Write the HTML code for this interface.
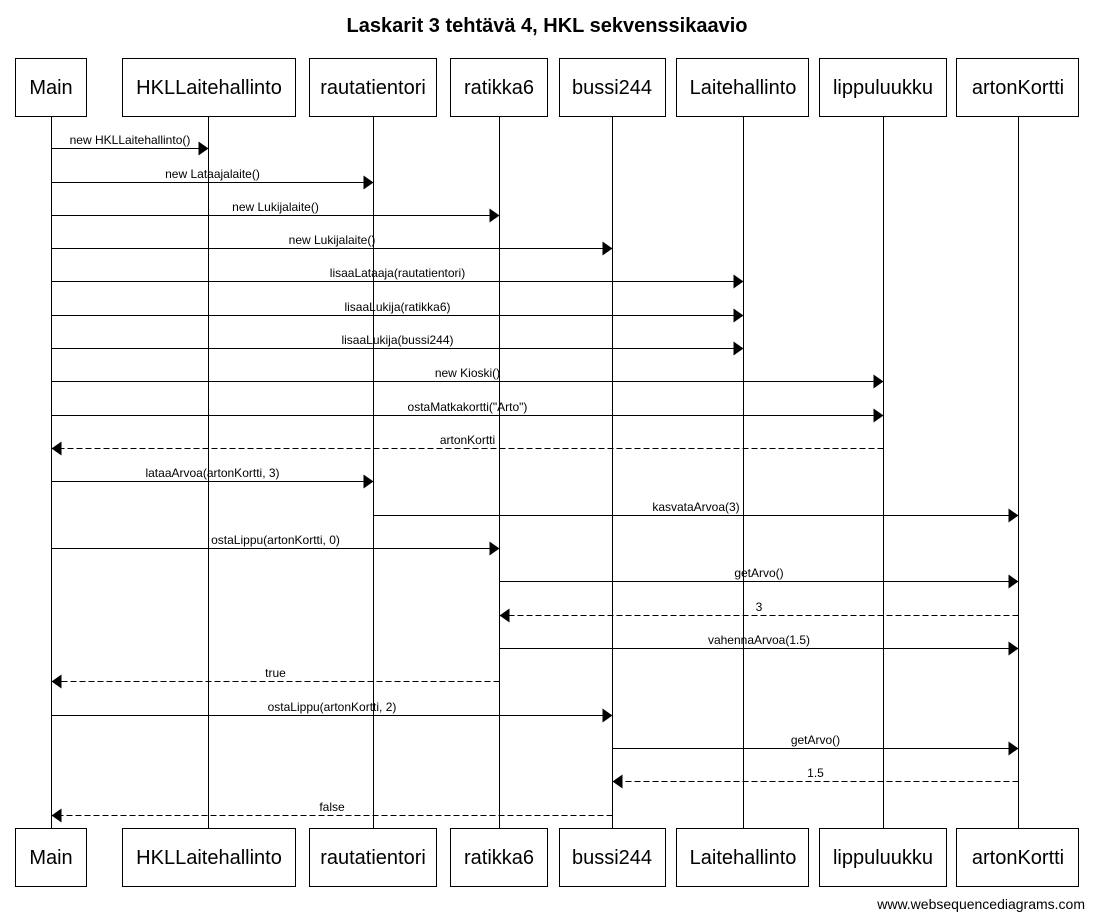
<!DOCTYPE html>
<html><head><meta charset="utf-8"><style>
html,body{margin:0;padding:0;background:#fff;}
svg{display:block;font-family:"Liberation Sans",Arial,sans-serif;}
</style></head><body>
<svg width="1095" height="919" viewBox="0 0 1095 919" xmlns="http://www.w3.org/2000/svg">
<text x="547" y="32" text-anchor="middle" font-size="20" font-weight="bold">Laskarit 3 tehtävä 4, HKL sekvenssikaavio</text>
<g stroke="#000" stroke-width="1" fill="none">
<line x1="51.5" y1="116" x2="51.5" y2="829"/>
<line x1="208.5" y1="116" x2="208.5" y2="829"/>
<line x1="373.5" y1="116" x2="373.5" y2="829"/>
<line x1="499.5" y1="116" x2="499.5" y2="829"/>
<line x1="612.5" y1="116" x2="612.5" y2="829"/>
<line x1="743.5" y1="116" x2="743.5" y2="829"/>
<line x1="883.5" y1="116" x2="883.5" y2="829"/>
<line x1="1018.5" y1="116" x2="1018.5" y2="829"/>
</g>
<g stroke="#000" stroke-width="1" fill="#fff">
<rect x="15.5" y="58.5" width="71" height="58"/>
<rect x="122.5" y="58.5" width="173" height="58"/>
<rect x="309.5" y="58.5" width="127" height="58"/>
<rect x="450.5" y="58.5" width="97" height="58"/>
<rect x="559.5" y="58.5" width="106" height="58"/>
<rect x="676.5" y="58.5" width="132" height="58"/>
<rect x="819.5" y="58.5" width="127" height="58"/>
<rect x="956.5" y="58.5" width="122" height="58"/>
<rect x="15.5" y="828.5" width="71" height="58"/>
<rect x="122.5" y="828.5" width="173" height="58"/>
<rect x="309.5" y="828.5" width="127" height="58"/>
<rect x="450.5" y="828.5" width="97" height="58"/>
<rect x="559.5" y="828.5" width="106" height="58"/>
<rect x="676.5" y="828.5" width="132" height="58"/>
<rect x="819.5" y="828.5" width="127" height="58"/>
<rect x="956.5" y="828.5" width="122" height="58"/>
</g>
<g font-size="20" text-anchor="middle">
<text x="51" y="94">Main</text><text x="209" y="94">HKLLaitehallinto</text><text x="373" y="94">rautatientori</text><text x="499" y="94">ratikka6</text><text x="612" y="94">bussi244</text><text x="743" y="94">Laitehallinto</text><text x="883" y="94">lippuluukku</text><text x="1018" y="94">artonKortti</text>
<text x="51" y="864">Main</text><text x="209" y="864">HKLLaitehallinto</text><text x="373" y="864">rautatientori</text><text x="499" y="864">ratikka6</text><text x="612" y="864">bussi244</text><text x="743" y="864">Laitehallinto</text><text x="883" y="864">lippuluukku</text><text x="1018" y="864">artonKortti</text>
</g>
<g stroke="#000" stroke-width="1">
<line x1="51.5" y1="148.5" x2="199.5" y2="148.5"/>
<line x1="51.5" y1="182.5" x2="364.5" y2="182.5"/>
<line x1="51.5" y1="215.5" x2="490.5" y2="215.5"/>
<line x1="51.5" y1="248.5" x2="603.5" y2="248.5"/>
<line x1="51.5" y1="281.5" x2="734.5" y2="281.5"/>
<line x1="51.5" y1="315.5" x2="734.5" y2="315.5"/>
<line x1="51.5" y1="348.5" x2="734.5" y2="348.5"/>
<line x1="51.5" y1="381.5" x2="874.5" y2="381.5"/>
<line x1="51.5" y1="415.5" x2="874.5" y2="415.5"/>
<line x1="883.5" y1="448.5" x2="60.5" y2="448.5" stroke-dasharray="6,3"/>
<line x1="51.5" y1="481.5" x2="364.5" y2="481.5"/>
<line x1="373.5" y1="515.5" x2="1009.5" y2="515.5"/>
<line x1="51.5" y1="548.5" x2="490.5" y2="548.5"/>
<line x1="499.5" y1="581.5" x2="1009.5" y2="581.5"/>
<line x1="1018.5" y1="615.5" x2="508.5" y2="615.5" stroke-dasharray="6,3"/>
<line x1="499.5" y1="648.5" x2="1009.5" y2="648.5"/>
<line x1="499.5" y1="681.5" x2="60.5" y2="681.5" stroke-dasharray="6,3"/>
<line x1="51.5" y1="715.5" x2="603.5" y2="715.5"/>
<line x1="612.5" y1="748.5" x2="1009.5" y2="748.5"/>
<line x1="1018.5" y1="781.5" x2="621.5" y2="781.5" stroke-dasharray="6,3"/>
<line x1="612.5" y1="815.5" x2="60.5" y2="815.5" stroke-dasharray="6,3"/>
</g>
<g fill="#000">
<polygon points="198.5,141.5 208.5,148.5 198.5,155.5"/>
<polygon points="363.5,175.5 373.5,182.5 363.5,189.5"/>
<polygon points="489.5,208.5 499.5,215.5 489.5,222.5"/>
<polygon points="602.5,241.5 612.5,248.5 602.5,255.5"/>
<polygon points="733.5,274.5 743.5,281.5 733.5,288.5"/>
<polygon points="733.5,308.5 743.5,315.5 733.5,322.5"/>
<polygon points="733.5,341.5 743.5,348.5 733.5,355.5"/>
<polygon points="873.5,374.5 883.5,381.5 873.5,388.5"/>
<polygon points="873.5,408.5 883.5,415.5 873.5,422.5"/>
<polygon points="363.5,474.5 373.5,481.5 363.5,488.5"/>
<polygon points="1008.5,508.5 1018.5,515.5 1008.5,522.5"/>
<polygon points="489.5,541.5 499.5,548.5 489.5,555.5"/>
<polygon points="1008.5,574.5 1018.5,581.5 1008.5,588.5"/>
<polygon points="1008.5,641.5 1018.5,648.5 1008.5,655.5"/>
<polygon points="602.5,708.5 612.5,715.5 602.5,722.5"/>
<polygon points="1008.5,741.5 1018.5,748.5 1008.5,755.5"/>
<polygon points="61.5,441.5 51.5,448.5 61.5,455.5"/>
<polygon points="509.5,608.5 499.5,615.5 509.5,622.5"/>
<polygon points="61.5,674.5 51.5,681.5 61.5,688.5"/>
<polygon points="622.5,774.5 612.5,781.5 622.5,788.5"/>
<polygon points="61.5,808.5 51.5,815.5 61.5,822.5"/>
</g>
<g font-size="12" text-anchor="middle">
<text x="130" y="144">new HKLLaitehallinto()</text>
<text x="212.5" y="178">new Lataajalaite()</text>
<text x="275.5" y="211">new Lukijalaite()</text>
<text x="332" y="244">new Lukijalaite()</text>
<text x="397.5" y="277">lisaaLataaja(rautatientori)</text>
<text x="397.5" y="311">lisaaLukija(ratikka6)</text>
<text x="397.5" y="344">lisaaLukija(bussi244)</text>
<text x="467.5" y="377">new Kioski()</text>
<text x="467.5" y="411">ostaMatkakortti("Arto")</text>
<text x="467.5" y="444">artonKortti</text>
<text x="212.5" y="477">lataaArvoa(artonKortti, 3)</text>
<text x="696" y="511">kasvataArvoa(3)</text>
<text x="275.5" y="544">ostaLippu(artonKortti, 0)</text>
<text x="759" y="577">getArvo()</text>
<text x="759" y="611">3</text>
<text x="759" y="644">vahennaArvoa(1.5)</text>
<text x="275.5" y="677">true</text>
<text x="332" y="711">ostaLippu(artonKortti, 2)</text>
<text x="815.5" y="744">getArvo()</text>
<text x="815.5" y="777">1.5</text>
<text x="332" y="811">false</text>
</g>
<text x="1085" y="909" font-size="14" text-anchor="end">www.websequencediagrams.com</text>
</svg>
</body></html>
